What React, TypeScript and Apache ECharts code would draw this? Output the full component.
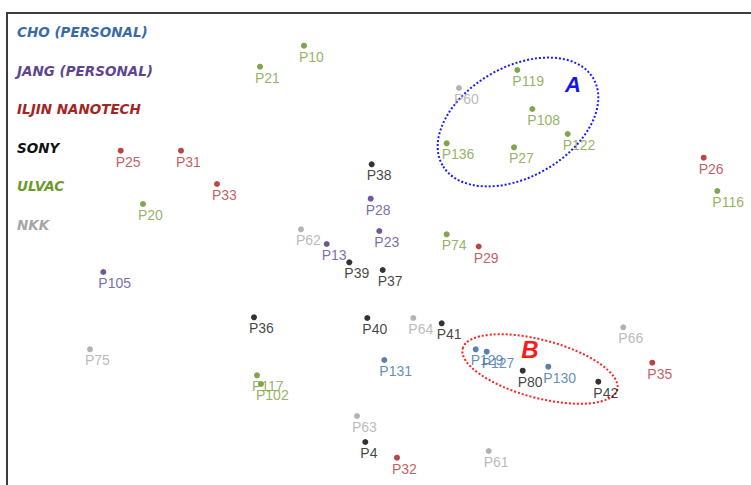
import React, { useEffect, useRef } from "react";
import * as echarts from "echarts";

// Company groups (legend order)
const companies = ["CHO (PERSONAL)", "JANG (PERSONAL)", "ILJIN NANOTECH", "SONY", "ULVAC", "NKK"];
const legendColors = ["#3a6aa8", "#5d4590", "#a52424", "#111111", "#6b9a2a", "#a6a6a6"];
const dotColors = ["#2f5f9a", "#4b2d7f", "#a01c1c", "#000000", "#5f8f23", "#a0a0a0"];
const labelColors = ["#3d6fa8", "#5c4593", "#b03838", "#111111", "#7a9e3c", "#a8a8a8"];

// Patent map coordinates [x, y, name]
const choPoints: [number, number, string][] = [
  [384.3, 360, "P131"], [548.3, 366.7, "P130"], [475.7, 349.3, "P129"], [486.7, 351.7, "P127"],
];
const jangPoints: [number, number, string][] = [
  [370.7, 198.7, "P28"], [379.3, 231, "P23"], [326.7, 244, "P13"], [103.3, 272, "P105"],
];
const iljinPoints: [number, number, string][] = [
  [120.7, 150.7, "P25"], [181, 150.7, "P31"], [217, 184, "P33"], [703.7, 157.7, "P26"],
  [478.7, 246.5, "P29"], [652.3, 362.7, "P35"], [397, 457.7, "P32"],
];
const sonyPoints: [number, number, string][] = [
  [371.7, 164.3, "P38"], [349.3, 262.3, "P39"], [382.7, 270, "P37"], [254, 317.3, "P36"],
  [367.3, 318, "P40"], [441.7, 323.3, "P41"], [522.7, 370.7, "P80"], [598.3, 381.7, "P42"],
  [365.3, 442, "P4"],
];
const ulvacPoints: [number, number, string][] = [
  [304, 45.7, "P10"], [260, 66.7, "P21"], [517.3, 70, "P119"], [532.3, 109, "P108"],
  [567.7, 134, "P122"], [446.7, 143.3, "P136"], [514, 147.3, "P27"], [143, 204, "P20"],
  [717.3, 191, "P116"], [446.7, 234.3, "P74"], [257, 375.3, "P117"], [261, 384, "P102"],
];
const nkkPoints: [number, number, string][] = [
  [459, 88, "P60"], [301, 229.3, "P62"], [413.3, 318, "P64"], [90, 349.3, "P75"],
  [623.3, 327.3, "P66"], [357, 416, "P63"], [488.7, 451, "P61"],
];
const groups = [choPoints, jangPoints, iljinPoints, sonyPoints, ulvacPoints, nkkPoints];

// Cluster annotations: [centerX, centerY]
const clusterA: [number, number] = [518, 122];
const clusterB: [number, number] = [540, 369];
const labelA: [number, number] = [573, 84];
const labelB: [number, number] = [530, 349];

export default function App() {
  const ref = useRef<HTMLDivElement>(null);
  useEffect(() => {
    if (!ref.current) return;
    const chart = echarts.init(ref.current, null, { renderer: "svg" });
    const series = groups.map((pts, i) => ({
      name: companies[i],
      type: "scatter",
      symbol: "circle",
      symbolSize: 6,
      itemStyle: { color: dotColors[i] },
      data: pts.map((p) => ({ value: [p[0], p[1]], name: p[2] })),
      label: {
        show: true,
        formatter: (params: any) => params.name,
        position: [-2, 14],
        align: "left",
        verticalAlign: "middle",
        color: labelColors[i],
        fontFamily: "Liberation Sans, Arial, sans-serif",
        fontSize: 14,
      },
      emphasis: { disabled: true },
      z: 3,
    }));
    chart.setOption({
      animation: false,
      backgroundColor: "#ffffff",
      grid: { left: 0, right: 0, top: 0, bottom: 0 },
      xAxis: { type: "value", min: 0, max: 751, show: false },
      yAxis: { type: "value", min: 0, max: 485, inverse: true, show: false },
      legend: {
        orient: "vertical",
        left: 7,
        top: 20,
        padding: 5,
        icon: "none",
        itemWidth: 0,
        itemHeight: 14,
        itemGap: 24.6,
        selectedMode: false,
        textStyle: {
          fontFamily: "DejaVu Sans, sans-serif",
          fontWeight: "bold",
          fontStyle: "italic",
          fontSize: 13.5,
          lineHeight: 14,
        },
        data: companies.map((c, i) => ({ name: c, textStyle: { color: legendColors[i] } })),
      },
      series,
    });
    const pa = chart.convertToPixel({ gridIndex: 0 }, clusterA) as number[];
    const pb = chart.convertToPixel({ gridIndex: 0 }, clusterB) as number[];
    const la = chart.convertToPixel({ gridIndex: 0 }, labelA) as number[];
    const lb = chart.convertToPixel({ gridIndex: 0 }, labelB) as number[];
    chart.setOption({
      graphic: [
        {
          type: "rect",
          shape: { x: 7, y: 13, width: 800, height: 520 },
          style: { fill: "none", stroke: "#3c3c3c", lineWidth: 2 },
          z: 1,
          silent: true,
        },
        {
          type: "ellipse",
          x: pa[0],
          y: pa[1],
          rotation: 0.52,
          shape: { cx: 0, cy: 0, rx: 87, ry: 55 },
          style: { fill: "none", stroke: "#1a1aff", lineWidth: 2, lineDash: [2, 2] },
          silent: true,
        },
        {
          type: "ellipse",
          x: pb[0],
          y: pb[1],
          rotation: -0.26,
          shape: { cx: 0, cy: 0, rx: 80, ry: 29 },
          style: { fill: "none", stroke: "#ff2020", lineWidth: 2, lineDash: [2, 2] },
          silent: true,
        },
        {
          type: "text",
          x: la[0],
          y: la[1],
          style: {
            text: "A",
            fill: "#1414ee",
            font: "italic bold 22px 'Liberation Sans', Arial, sans-serif",
            textAlign: "center",
            textVerticalAlign: "middle",
          },
        },
        {
          type: "text",
          x: lb[0],
          y: lb[1],
          style: {
            text: "B",
            fill: "#ff1a1a",
            font: "italic bold 24px 'Liberation Sans', Arial, sans-serif",
            textAlign: "center",
            textVerticalAlign: "middle",
          },
        },
      ],
    });
    return () => chart.dispose();
  }, []);
  return (
    <div
      ref={ref}
      style={{ position: "fixed", left: 0, top: 0, width: 751, height: 485 }}
    />
  );
}
